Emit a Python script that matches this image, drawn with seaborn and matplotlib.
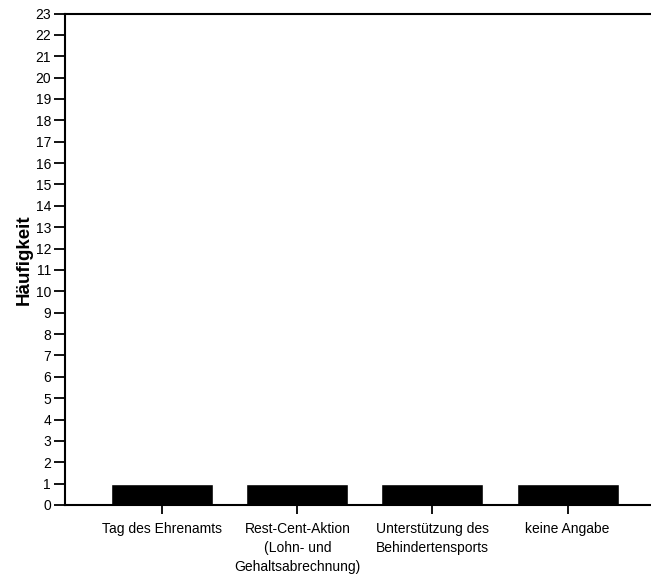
import matplotlib
matplotlib.use("Agg")
import matplotlib.pyplot as plt
import seaborn as sns
import pandas as pd

categories = [
    "Tag des Ehrenamts",
    "Rest-Cent-Aktion\n(Lohn- und\nGehaltsabrechnung)",
    "Unterstützung des\nBehindertensports",
    "keine Angabe",
]
counts = [1, 1, 1, 1]
y_ticks = list(range(0, 24))

df = pd.DataFrame({"kategorie": categories, "haeufigkeit": counts})

sns.set_style("ticks")
plt.rcParams["font.family"] = ["Liberation Sans", "DejaVu Sans"]

fig = plt.figure(figsize=(6.51, 5.77), dpi=100)
ax = fig.add_axes([0.0998, 0.1248, 0.8987, 0.8518])

sns.barplot(data=df, x="kategorie", y="haeufigkeit", color="black",
            width=0.755, saturation=1, ax=ax)

ax.set_xlim(-0.72, 3.61)
ax.set_ylim(0, 23)
ax.set_yticks(y_ticks)
ax.set_yticklabels([str(v) for v in y_ticks], fontsize=10)
ax.set_xticks(range(len(categories)))
ax.set_xticklabels(categories, fontsize=10, linespacing=1.42)

ax.set_xlabel("")
ax.set_ylabel("Häufigkeit", fontsize=13.5, fontweight="bold", color="black", labelpad=2)

for side in ["left", "top", "bottom"]:
    ax.spines[side].set_visible(True)
    ax.spines[side].set_linewidth(1.5)
    ax.spines[side].set_color("black")
ax.spines["right"].set_visible(False)

ax.tick_params(axis="y", length=8, width=1.3, color="black", pad=2, labelcolor="black")
ax.tick_params(axis="x", length=6.5, width=1.3, color="black", pad=6, labelcolor="black")

fig.savefig("out.png", dpi=100)
